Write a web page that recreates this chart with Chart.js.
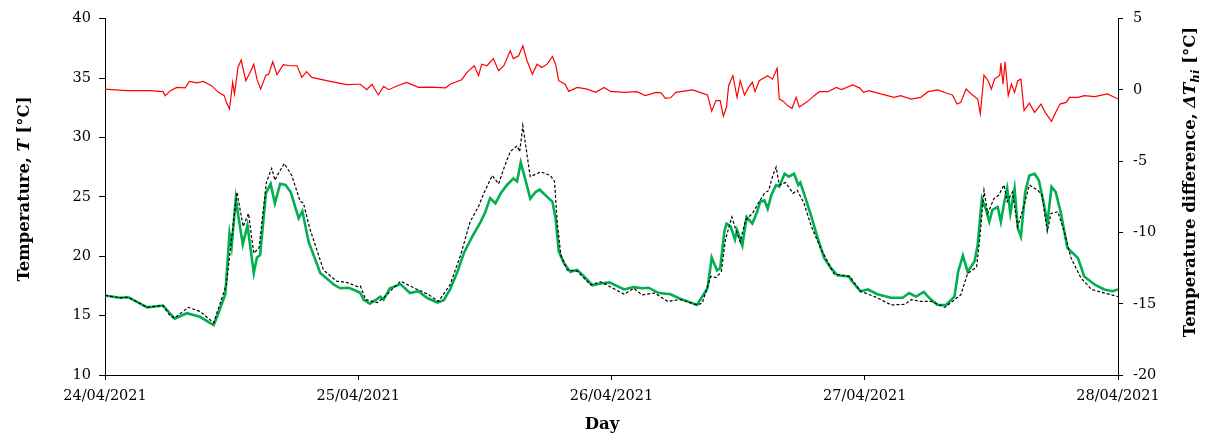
<!DOCTYPE html>
<html>
<head>
<meta charset="utf-8">
<script src="https://cdn.jsdelivr.net/npm/chart.js@4.4.1/dist/chart.umd.min.js"></script>
<style>
html,body{margin:0;padding:0;background:#fff;}
#wrap{width:1205px;height:436px;position:relative;}
</style>
</head>
<body>
<div id="wrap"><canvas id="c" width="1205" height="436"></canvas></div>
<script>
// ---- data (hours since 24/04/2021 00:00) ----
const dayLabels = ["24/04/2021","25/04/2021","26/04/2021","27/04/2021","28/04/2021"];
const leftTicks = [10,15,20,25,30,35,40];
const rightTicks = [-20,-15,-10,-5,0,5];

// green line: temperature (solid)
const greenHours = [0,1.4,2.2,4,5.5,6.6,7.75,9,10.3,10.7,11.4,11.8,12,12.4,12.65,13.06,13.5,14.1,14.4,14.7,15.25,15.7,16.1,16.6,17.1,17.6,18.35,18.7,19.3,20.4,21.7,22.3,23.1,23.9,24.2,24.5,25.1,26.1,26.4,27.0,28.0,28.9,29.7,30.5,31.5,32.1,32.7,33.4,34.0,34.8,35.6,36.05,36.5,37.0,37.5,38.1,38.7,39.05,39.4,39.85,40.3,40.8,41.2,41.9,42.4,42.7,43.0,43.5,44.1,44.75,45.4,46.2,47.0,47.8,49.2,50.1,50.9,51.5,52.5,53.6,54.55,55.2,56.1,57.1,57.5,58.0,58.3,58.7,58.9,59.3,59.7,59.9,60.4,60.8,61.35,61.8,62.1,62.5,62.8,63.15,63.6,63.9,64.4,64.8,65.3,65.7,65.9,66.4,66.9,67.5,68.15,68.8,69.4,70.5,70.7,71.6,72.3,73.2,74.5,75.6,76.2,76.85,77.6,78.1,78.9,79.7,80.5,80.85,81.3,81.75,82.4,82.7,83.1,83.5,83.8,84.1,84.6,84.9,85.2,85.5,85.8,86.2,86.5,86.8,87.2,87.6,88.1,88.5,89.0,89.3,89.7,90.1,90.6,91.2,92.2,92.8,93.8,94.7,95.5,96];
const greenTemps = [16.7,16.5,16.55,15.7,15.85,14.75,15.2,14.9,14.2,15.1,16.8,21.9,20.8,24.85,23.3,21.0,22.6,18.6,19.9,20.1,25.3,26.1,24.45,26.1,26.0,25.4,23.2,23.8,21.2,18.6,17.6,17.3,17.35,17.05,16.9,16.35,16.0,16.6,16.35,17.3,17.65,16.9,17.05,16.5,16.1,16.3,17.2,18.7,20.25,21.65,22.9,23.75,24.9,24.45,25.3,26.0,26.55,26.3,27.9,26.4,24.85,25.4,25.6,25.0,24.6,23.2,20.4,19.4,18.7,18.85,18.3,17.55,17.7,17.8,17.2,17.4,17.3,17.35,16.9,16.8,16.4,16.2,15.9,17.3,19.9,18.8,19.0,22.1,22.75,22.5,21.4,22.2,20.9,23.3,22.75,23.75,24.6,24.7,24.0,25.15,26.0,25.85,26.95,26.7,26.95,26.0,26.2,24.85,23.45,21.65,19.85,19.0,18.4,18.3,18.0,17.05,17.2,16.8,16.5,16.5,16.9,16.6,17.0,16.5,15.9,15.9,16.6,18.7,20.05,18.7,19.55,20.95,24.85,23.9,22.9,23.9,24.15,22.9,24.45,25.7,23.6,25.7,22.35,21.65,25.4,26.8,26.95,26.4,24.3,22.75,25.85,25.4,23.6,20.7,19.85,18.3,17.6,17.2,17.05,17.2];

// black dashed line: temperature
const blackHours = [0,1.4,2.2,4,5.5,6.2,6.6,7.9,9,10.3,11.5,12.5,13.1,13.6,14.1,14.6,15.3,15.8,16.1,16.45,17.0,17.7,18.5,18.8,19.4,20.7,21.95,22.9,23.9,24.2,24.7,25.8,26.4,28.0,29.6,30.6,31.6,32.7,33.7,34.6,35.4,35.9,36.7,37.3,37.8,38.4,39.05,39.3,39.6,40.0,40.3,41.3,42.2,42.6,42.85,43.2,43.8,44.75,46.0,47.0,49.2,50.1,50.9,52.1,53.3,54.55,56.1,56.6,57.4,57.9,58.4,58.8,59.4,59.8,60.2,60.7,61.35,62.0,62.5,62.9,63.25,63.6,63.9,64.5,65.2,65.6,66.25,66.9,67.8,69.1,70.5,70.7,71.6,73.2,74.5,75.8,76.4,77.3,78.3,79.6,80.1,81.1,81.75,82.6,82.9,83.3,83.65,84.25,84.7,85.2,85.5,86.0,86.5,87.1,87.6,88.4,88.8,89.3,89.65,90.3,90.9,91.55,92.5,93.5,94.7,96];
const blackTemps = [16.7,16.5,16.55,15.7,15.85,14.95,14.8,15.7,15.35,14.4,17.6,25.4,22.5,23.6,20.25,20.7,26.25,27.4,26.4,27.0,27.8,26.8,24.6,24.5,22.35,18.85,17.9,17.8,17.45,17.5,16.35,16.1,16.5,17.9,17.2,16.8,16.2,17.6,20.1,22.9,24.2,25.3,26.8,26.1,27.4,28.8,29.3,28.8,31.0,28.5,26.7,27.1,26.8,26.3,22.9,20.1,18.85,18.75,17.6,17.85,16.8,17.3,16.75,16.9,16.2,16.35,15.9,16.05,18.3,18.2,18.7,21.4,23.3,22.2,21.2,23.05,23.6,24.6,25.3,25.55,26.7,27.5,26.0,26.2,25.3,25.55,24.45,22.6,20.7,18.5,18.3,18.15,17.05,16.5,15.9,15.95,16.35,16.2,16.2,15.7,16.05,16.75,18.55,19.1,21.5,25.55,23.6,24.85,25.15,26.0,24.6,25.4,22.5,24.3,26.0,25.55,25.15,22.1,23.6,23.75,22.1,19.85,18.15,17.2,16.9,16.6];

// red line: temperature difference (right axis)
const redHours = [0,2.06,4.27,5.5,5.7,6.2,6.8,7.6,8.0,8.7,9.3,10.1,10.75,11.3,11.5,11.8,12.1,12.27,12.6,12.9,13.35,13.75,14.1,14.4,14.75,15.25,15.5,15.9,16.3,16.9,17.55,18.2,18.65,19.1,19.6,21.0,22.9,23.85,24.2,24.8,25.3,25.9,26.4,26.9,27.7,28.6,29.7,30.8,32.3,32.7,33.8,34.3,35.0,35.4,35.7,36.2,36.8,37.3,37.8,38.4,38.7,39.2,39.6,40.0,40.5,40.95,41.4,41.9,42.4,42.7,43.0,43.6,43.95,44.75,45.7,46.5,47.3,47.9,49.2,50.4,51.2,52.2,52.7,53.1,53.6,54.1,55.2,55.7,56.5,57.1,57.5,57.9,58.3,58.6,58.9,59.1,59.5,59.9,60.2,60.6,61.0,61.35,61.6,62.0,62.8,63.25,63.7,63.9,64.2,64.7,65.1,65.5,65.8,66.6,67.2,67.7,68.5,69.3,69.8,70.85,71.5,71.9,72.4,73.5,74.8,75.4,76.4,77.3,78.0,78.9,80.0,80.3,80.75,81.1,81.6,82.1,82.7,82.95,83.3,83.7,84.0,84.3,84.8,84.9,85.1,85.3,85.6,85.9,86.2,86.5,86.8,87.1,87.6,88.1,88.7,89.1,89.7,90.1,90.5,91.1,91.4,92.2,92.8,93.8,95.0,96.0];
const redDiffs = [0.06,-0.05,-0.05,-0.12,-0.4,-0.05,0.18,0.15,0.6,0.5,0.6,0.3,-0.17,-0.4,-0.87,-1.33,0.53,-0.28,1.58,2.1,0.65,1.23,1.81,0.76,0.06,1.04,1.08,1.98,1.08,1.77,1.7,1.7,0.88,1.28,0.88,0.65,0.37,0.4,0.4,0.02,0.4,-0.35,0.25,0.02,0.3,0.53,0.18,0.2,0.15,0.4,0.72,1.23,1.7,1.0,1.81,1.7,2.2,1.35,1.7,2.75,2.2,2.4,3.1,2.05,1.11,1.81,1.58,1.81,2.35,1.81,0.65,0.4,-0.1,0.18,0.06,-0.17,0.18,-0.1,-0.17,-0.12,-0.4,-0.17,-0.2,-0.59,-0.55,-0.17,-0.05,0.0,-0.2,-0.35,-1.49,-0.75,-0.75,-1.84,-1.2,0.3,1.0,-0.52,0.65,-0.35,0.18,0.55,-0.12,0.65,1.0,0.76,1.53,-0.64,-0.75,-1.1,-1.3,-0.52,-1.2,-0.8,-0.4,-0.12,-0.12,0.18,0.02,0.35,0.15,-0.17,-0.05,-0.28,-0.52,-0.4,-0.64,-0.52,-0.12,0.0,-0.28,-0.35,-0.99,-0.87,0.06,-0.28,-0.64,-1.68,1.04,0.65,0.06,0.76,1.04,1.88,0.4,1.98,-0.4,0.4,-0.17,0.65,0.76,-1.45,-0.93,-1.57,-0.99,-1.57,-2.2,-1.57,-0.99,-0.87,-0.52,-0.52,-0.4,-0.47,-0.28,-0.64];

const pair = (xs, ys) => xs.map((x, i) => ({x: x, y: ys[i]}));

const FONT = '"DejaVu Serif", "Liberation Serif", serif';
const TITLE_SIZE = 16.5;

// rich axis titles drawn as canvas text
const richTitles = {
  id: 'richTitles',
  afterDraw(chart) {
    const ctx = chart.ctx;
    const a = chart.chartArea;
    const reg = `bold ${TITLE_SIZE}px ${FONT}`;
    const ital = `italic bold ${TITLE_SIZE}px ${FONT}`;
    const sub = `italic bold ${TITLE_SIZE * 0.72}px ${FONT}`;
    function draw(segs, cx, cy, rot) {
      ctx.save();
      ctx.translate(cx, cy);
      ctx.rotate(rot);
      ctx.fillStyle = '#000';
      ctx.textBaseline = 'middle';
      ctx.textAlign = 'left';
      let total = 0;
      segs.forEach(s => { ctx.font = s.f; s.w = ctx.measureText(s.t).width; total += s.w; });
      let x = -total / 2;
      segs.forEach(s => {
        ctx.font = s.f;
        ctx.fillText(s.t, x, s.dy || 0);
        x += s.w;
      });
      ctx.restore();
    }
    draw([{t: 'Temperature, ', f: reg}, {t: 'T', f: ital}, {t: ' [°C]', f: reg}], 25, 189, -Math.PI / 2);
    draw([{t: 'Temperature difference, ', f: reg}, {t: 'ΔT', f: ital}, {t: 'hi', f: sub, dy: 5}, {t: ' [°C]', f: reg}], 1191, 182, -Math.PI / 2);
    draw([{t: 'Day', f: reg}], 602, 425, 0);
  }
};

const axisCommon = {
  grid: {display: true, drawOnChartArea: false, drawTicks: true, color: '#000', lineWidth: 1},
  border: {display: true, color: '#000', width: 1},
  ticks: {color: '#000', font: {family: FONT, size: 14.5}}
};

new Chart(document.getElementById('c'), {
  type: 'line',
  data: {
    datasets: [
      {label: 'T dashed', data: pair(blackHours, blackTemps), yAxisID: 'y', borderColor: '#000', borderWidth: 1.2, borderDash: [3, 2], pointRadius: 0, tension: 0, order: 0},
      {label: 'T', data: pair(greenHours, greenTemps), yAxisID: 'y', borderColor: '#00B050', borderWidth: 2.6, pointRadius: 0, tension: 0, order: 1},
      {label: 'ΔT', data: pair(redHours, redDiffs), yAxisID: 'y2', borderColor: '#FF0000', borderWidth: 1.2, pointRadius: 0, tension: 0, order: 2}
    ]
  },
  options: {
    responsive: false,
    animation: false,
    devicePixelRatio: 1,
    layout: {padding: {top: 16, bottom: 0, left: 0, right: 0}},
    plugins: {legend: {display: false}, tooltip: {enabled: false}},
    scales: {
      x: {
        type: 'linear', min: 0, max: 96,
        grid: Object.assign({}, axisCommon.grid, {tickLength: 5}),
        border: axisCommon.border,
        ticks: Object.assign({}, axisCommon.ticks, {stepSize: 24, maxRotation: 0, autoSkip: false, padding: 8,
          callback: v => dayLabels[Math.round(v / 24)]}),
        afterBuildTicks: s => { s.ticks = dayLabels.map((_, i) => ({value: i * 24})); },
        afterFit: s => { s.height = 61; }
      },
      y: {
        position: 'left', min: 10, max: 40,
        grid: Object.assign({}, axisCommon.grid, {tickLength: 6}),
        border: axisCommon.border,
        ticks: Object.assign({}, axisCommon.ticks, {stepSize: 5, padding: 8}),
        afterBuildTicks: s => { s.ticks = leftTicks.map(v => ({value: v})); },
        afterFit: s => { s.width = 105; }
      },
      y2: {
        position: 'right', min: -20, max: 5,
        grid: Object.assign({}, axisCommon.grid, {tickLength: 5}),
        border: axisCommon.border,
        ticks: Object.assign({}, axisCommon.ticks, {stepSize: 5, padding: 10}),
        afterBuildTicks: s => { s.ticks = rightTicks.map(v => ({value: v})); },
        afterFit: s => { s.width = 87; }
      }
    }
  },
  plugins: [richTitles]
});
</script>
</body>
</html>
